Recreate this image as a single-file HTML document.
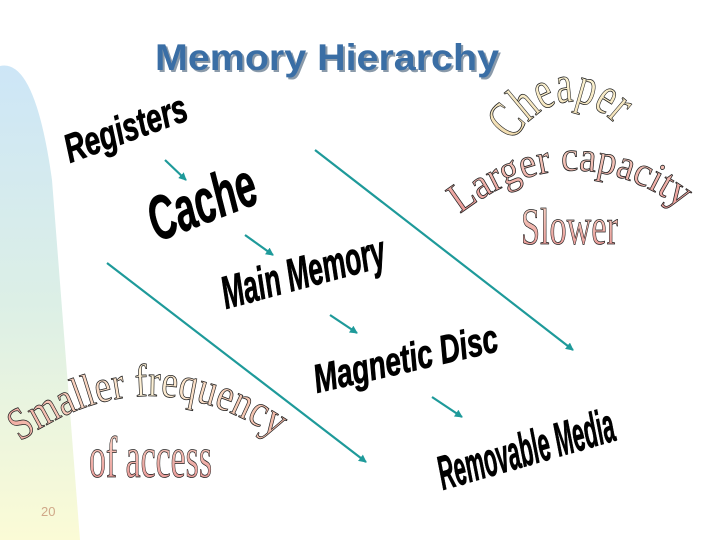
<!DOCTYPE html>
<html><head><meta charset="utf-8"><style>
html,body{margin:0;padding:0;background:#fff;}
svg{display:block;}
</style></head><body>
<svg width="720" height="540" viewBox="0 0 720 540" xmlns="http://www.w3.org/2000/svg">
<defs>
<linearGradient id="bg" x1="0" y1="0" x2="0" y2="1">
<stop offset="0" stop-color="#cde6f7"/><stop offset="0.5" stop-color="#dcefe6"/><stop offset="1" stop-color="#fbfbd6"/>
</linearGradient>
<linearGradient id="yel" x1="0" y1="0" x2="0" y2="1">
<stop offset="0" stop-color="#fffbe0"/><stop offset="1" stop-color="#f0d8a8"/>
</linearGradient>
<linearGradient id="pink" x1="0" y1="0" x2="0" y2="1">
<stop offset="0" stop-color="#f8d8c8"/><stop offset="1" stop-color="#e89090"/>
</linearGradient>
<linearGradient id="sm" x1="0" y1="0" x2="1" y2="0">
<stop offset="0" stop-color="#f0a8a0"/><stop offset="0.5" stop-color="#fff4d8"/><stop offset="1" stop-color="#f0b0a0"/>
</linearGradient>
<path id="pCheap" d="M512,142 Q568,62 632,142"/>
<path id="pLarge" d="M460,214 Q572,128 686,212"/>
<path id="pSmall" d="M20,442 Q150,350 282,442"/>
<marker id="ah" markerWidth="8" markerHeight="8" refX="7" refY="4" orient="auto" markerUnits="userSpaceOnUse">
<path d="M0,0 L8,4 L0,8 Z" fill="#1e9a9a"/>
</marker>
</defs>
<path d="M0,66 Q35,58 52,180 L80,540 L0,540 Z" fill="url(#bg)"/>
<text x="157" y="72" font-family="Liberation Sans, sans-serif" font-weight="bold" font-size="37" fill="#8a9aaa" textLength="344" lengthAdjust="spacingAndGlyphs">Memory Hierarchy</text>
<text x="155" y="70" font-family="Liberation Sans, sans-serif" font-weight="bold" font-size="37" fill="#3a6ea5" textLength="344" lengthAdjust="spacingAndGlyphs">Memory Hierarchy</text>

<g font-family="Liberation Sans, sans-serif" font-weight="bold" font-style="italic" fill="#000" stroke="#000" stroke-width="0.8">
<text transform="translate(70,163) rotate(-20)" font-size="40" textLength="128" lengthAdjust="spacingAndGlyphs">Registers</text>
<text transform="translate(157,242) rotate(-21)" font-size="62" textLength="112" lengthAdjust="spacingAndGlyphs">Cache</text>
<text transform="translate(226,309) rotate(-15)" font-size="46" textLength="168" lengthAdjust="spacingAndGlyphs">Main Memory</text>
<text transform="translate(317,393) rotate(-13)" font-size="40" textLength="188" lengthAdjust="spacingAndGlyphs">Magnetic Disc</text>
<text transform="translate(443,490) rotate(-16)" font-size="48" textLength="182" lengthAdjust="spacingAndGlyphs">Removable Media</text>
</g>

<g stroke="#1e9a9a" stroke-width="2.2" marker-end="url(#ah)">
<line x1="165" y1="160" x2="186" y2="180"/>
<line x1="245" y1="235" x2="273" y2="255"/>
<line x1="330" y1="315" x2="357" y2="333"/>
<line x1="432" y1="397" x2="462" y2="417"/>
<line x1="315" y1="150" x2="573" y2="350"/>
<line x1="107" y1="263" x2="366" y2="462"/>
</g>

<g font-family="Liberation Serif, serif" stroke="#222" stroke-width="0.8">
<text font-size="54" fill="url(#yel)"><textPath href="#pCheap" textLength="125" lengthAdjust="spacingAndGlyphs">Cheaper</textPath></text>
<text font-size="42" fill="url(#pink)"><textPath href="#pLarge" textLength="240" lengthAdjust="spacingAndGlyphs">Larger capacity</textPath></text>
<text x="521" y="244" font-size="52" fill="url(#pink)" textLength="97" lengthAdjust="spacingAndGlyphs">Slower</text>
<text font-size="46" fill="url(#sm)"><textPath href="#pSmall" textLength="275" lengthAdjust="spacingAndGlyphs">Smaller frequency</textPath></text>
<text x="89" y="477" font-size="58" fill="url(#pink)" textLength="123" lengthAdjust="spacingAndGlyphs">of access</text>
</g>
<text x="41" y="516" font-family="Liberation Sans, sans-serif" font-size="13" fill="#d0a888">20</text>
</svg>
</body></html>
